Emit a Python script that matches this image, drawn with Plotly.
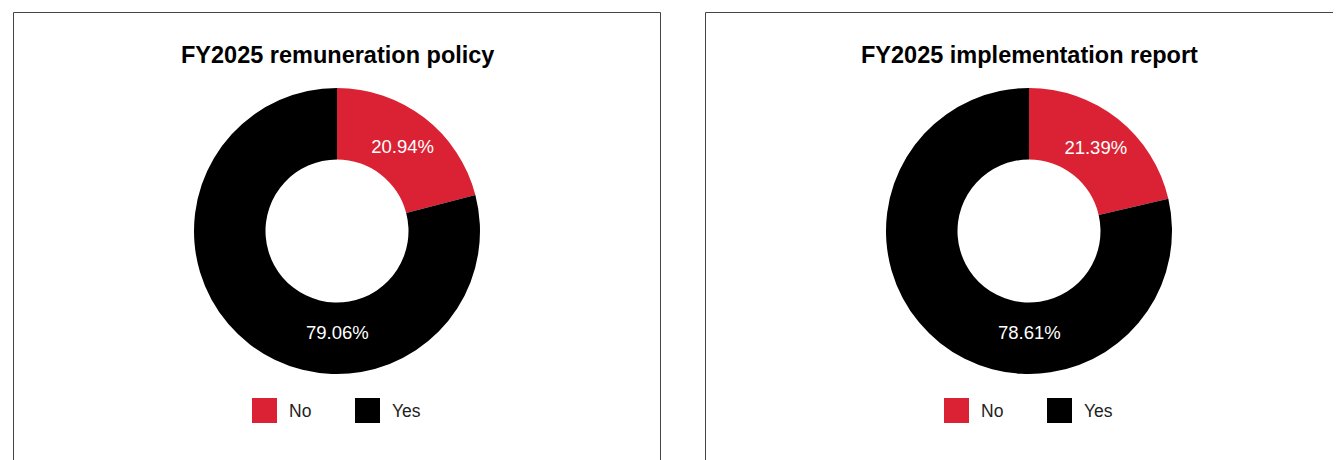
import plotly.graph_objects as go

# Page has an 8px body margin: the figure starts at (8, 8) in the window.
OFF = 8
W, H = 1341 - OFF, 460 - OFF

titles = ["FY2025 remuneration policy", "FY2025 implementation report"]
labels = ["No", "Yes"]
policy_values = [20.94, 79.06]
report_values = [21.39, 78.61]
colors = ["#DA2234", "#000000"]

FONT = "Liberation Sans, Arial, sans-serif"

def px(x):
    return (x - OFF) / W

def py(y):
    return 1 - (y - OFF) / H

fig = go.Figure()

panels = [
    dict(cx=337, values=policy_values, x0=13.5, x1=660.5),
    dict(cx=1029, values=report_values, x0=705.5, x1=1400),
]
R = 143
CY = 231

shapes = []
annotations = []
for i, p in enumerate(panels):
    cx = p["cx"]
    vals = p["values"]
    fig.add_trace(go.Pie(
        labels=labels,
        values=vals,
        hole=0.5,
        sort=False,
        direction="clockwise",
        rotation=0,
        marker=dict(colors=colors, line=dict(width=0)),
        texttemplate=["%{value:.2f}%", ""],
        textposition="inside",
        insidetextorientation="horizontal",
        insidetextfont=dict(color="#ffffff", size=18.5, family=FONT),
        domain=dict(x=[px(cx - R), px(cx + R)], y=[py(CY + R), py(CY - R)]),
        showlegend=False,
        hoverinfo="label+value",
    ))
    # label of the large slice, placed under the hole
    annotations.append(dict(text=f"{vals[1]:.2f}%", xref="paper", yref="paper",
                            x=px(cx), y=py(CY + 101), xanchor="center", yanchor="middle",
                            showarrow=False,
                            font=dict(size=18.5, color="#ffffff", family=FONT)))
    # panel border
    shapes.append(dict(type="rect", xref="paper", yref="paper",
                       x0=px(p["x0"]), x1=px(p["x1"]), y0=py(480), y1=py(12.5),
                       line=dict(color="#444444", width=1), fillcolor="rgba(0,0,0,0)"))
    # title
    annotations.append(dict(text="<b>" + titles[i] + "</b>", xref="paper", yref="paper",
                            x=px(cx), y=py(55), xanchor="center", yanchor="middle",
                            showarrow=False,
                            font=dict(size=23.5, color="#000000", family=FONT)))
    # custom legend
    lx = cx - 85
    offsets = [0, 103]
    for j, lab in enumerate(labels):
        sx = lx + offsets[j]
        shapes.append(dict(type="rect", xref="paper", yref="paper",
                           x0=px(sx), x1=px(sx + 25), y0=py(423), y1=py(398),
                           line=dict(width=0), fillcolor=colors[j]))
        annotations.append(dict(text=lab, xref="paper", yref="paper",
                                x=px(sx + 35), y=py(411), xanchor="left", yanchor="middle",
                                showarrow=False,
                                font=dict(size=17.5, color="#222222", family=FONT)))

fig.update_layout(
    width=W, height=H,
    margin=dict(l=0, r=0, t=0, b=0),
    paper_bgcolor="#ffffff",
    plot_bgcolor="#ffffff",
    shapes=shapes,
    annotations=annotations,
)

fig.write_html("out.html")
